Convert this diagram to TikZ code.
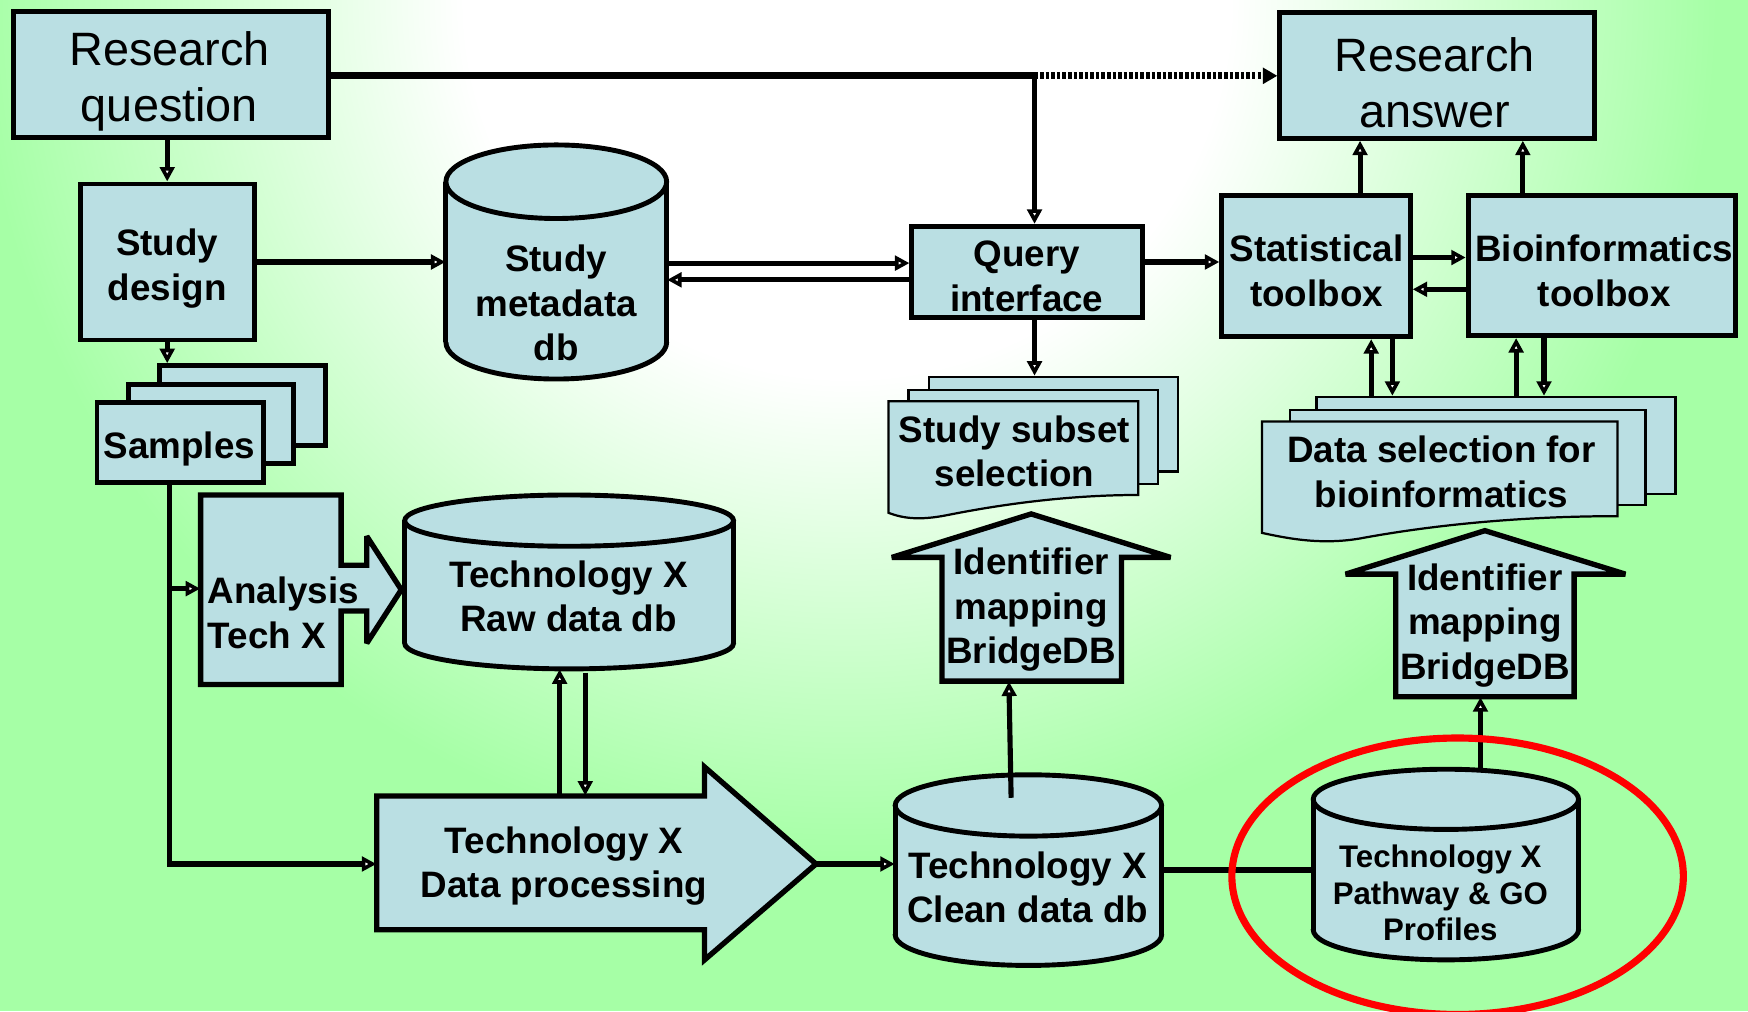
\documentclass[tikz,border=0pt]{standalone}
\usepackage{fontspec}
\setmainfont{Liberation Sans}
\usetikzlibrary{arrows.meta,fit}
\definecolor{bggreen}{HTML}{A6FFA6}
\definecolor{boxfill}{HTML}{BADFE3}
\pgfdeclareradialshading{bgshade}{\pgfpoint{0bp}{0bp}}{color(0bp)=(white); color(11bp)=(white); color(25bp)=(bggreen); color(50bp)=(bggreen)}
\newcommand\lblfont{\fontsize{16.5}{20}\selectfont\bfseries}
\newcommand\rqfont{\fontsize{21}{25}\selectfont}
\newcommand\pwfont{\fontsize{14}{16.5}\selectfont\bfseries}
% cylinder: cx, y of top ellipse centre, y of bottom ellipse centre, rx, ry
\newcommand\dbcyl[5]{%
  \fill[boxfill] (#1,#3) ellipse [x radius=#4, y radius=#5];
  \fill[boxfill] (#1-#4,#2) rectangle (#1+#4,#3);
  \begin{scope}
    \clip (#1-#4-10,#3) rectangle (#1+#4+10,#3+#5+10);
    \draw[line width=2.2pt] (#1,#3) ellipse [x radius=#4, y radius=#5];
  \end{scope}
  \draw[line width=2.2pt] (#1-#4,#2) -- (#1-#4,#3) (#1+#4,#2) -- (#1+#4,#3);
  \filldraw[fill=boxfill, line width=2.2pt] (#1,#2) ellipse [x radius=#4, y radius=#5];
}
\begin{document}
\begin{tikzpicture}[x=0.5pt,y=-0.5pt,
  box/.style={draw, fill=boxfill, line width=2.2pt, inner sep=0pt},
  shp/.style={draw, fill=boxfill, line width=2.4pt, line join=miter, miter limit=2.5},
  docpage/.style={draw, fill=boxfill, line width=1pt, inner sep=0pt},
  ghost/.style={draw=none, inner sep=0pt},
  lbl/.style={align=center, inner sep=0pt, font=\lblfont},
  conn/.style={line width=2.3pt},
  arr/.style={conn, -{Triangle[length=6.5pt,width=6.5pt,fill=white,line width=1.7pt]}},
]
\useasboundingbox (0,0) rectangle (1568,907);
% background
\fill[bggreen] (0,0) rectangle (1568,907);
\begin{scope}
  \clip (0,0) rectangle (1568,907);
  \shade[shading=bgshade] (-20,-770) rectangle (1540,770);
\end{scope}

% top boxes
\node[box, fit={(12,10) (295,123)}] (rq) {};
\node[lbl, font=\rqfont] (rqt) at (152,73) {Research\\question};
\node[box, fit={(1148,11) (1430,124)}] (ra) {};
\node[lbl, font=\rqfont] (rat) at (1287,74) {Research\\answer};
\node[box, fit={(72,165) (228,305)}] (sd) {};
\node[lbl] (sdt) at (150,241) {Study\\design};
\node[box, fit={(818,203) (1025,285)}] (qi) {};
\node[lbl] (qit) at (921,248) {Query\\interface};
\node[box, fit={(1096,175) (1265,302)}] (st) {};
\node[lbl] (stt) at (1181,243) {Statistical\\toolbox};
\node[box, fit={(1317,175) (1557,301)}] (bt) {};
\node[lbl] (btt) at (1439,243) {Bioinformatics\\toolbox};

% samples stack
\node[box, fit={(143,328) (292,400)}] (s3) {};
\node[box, fit={(115,345) (263,416)}] (s2) {};
\node[box, fit={(87,361) (236,433)}] (samples) {};
\node[lbl] (samplest) at (161,403) {Samples};

% cylinders
\dbcyl{499}{163}{307}{99}{33}
\node[ghost, fit={(400,130) (598,340)}] (smd) {};
\node[lbl] (smdt) at (499,272) {Study\\metadata\\db};

\dbcyl{510.5}{467}{577}{147.5}{23}
\node[ghost, fit={(363,444) (658,600)}] (rd) {};
\node[lbl] (rdt) at (510,535) {Technology X\\Raw data db};

\dbcyl{922.5}{722.5}{838.5}{119.5}{27.5}
\node[ghost, fit={(803,695) (1042,866)}] (cd) {};
\node[lbl] (cdt) at (922,796) {Technology X\\Clean data db};

\dbcyl{1297}{717}{834}{119}{27}
\node[ghost, fit={(1178,690) (1416,861)}] (pw) {};
\node[lbl, font=\pwfont] (pwt) at (1292,801) {Technology X\\Pathway \& GO\\Profiles};

% study subset selection (multi-document)
\node[docpage, fit={(833,338) (1057,423)}] (ss3) {};
\node[docpage, fit={(815,350) (1039,434)}] (ss2) {};
\filldraw[fill=boxfill, line width=1pt] (797,360) -- (1021,360) -- (1021,444)
  .. controls (960,444) and (900,452) .. (850,462)
  .. controls (825,467) and (810,465) .. (797,460) -- cycle;
\node[ghost, fit={(797,360) (1021,444)}] (ss) {};
\node[lbl] (sst) at (910,405) {Study subset\\selection};

% data selection (multi-document)
\node[docpage, fit={(1181,356) (1503,443)}] (ds3) {};
\node[docpage, fit={(1157,368) (1476,453)}] (ds2) {};
\filldraw[fill=boxfill, line width=1pt] (1132,378) -- (1451,378) -- (1451,463)
  .. controls (1370,463) and (1290,470) .. (1220,483)
  .. controls (1185,489) and (1155,483) .. (1132,478) -- cycle;
\node[ghost, fit={(1132,378) (1451,463)}] (ds) {};
\node[lbl] (dst) at (1293,423.5) {Data selection for\\bioinformatics};

% identifier mapping arrows
\filldraw[shp] (845,611) -- (845,500) -- (800,500) -- (925,461) -- (1050,500) -- (1006,500) -- (1006,611) -- cycle;
\node[ghost, fit={(845,500) (1006,611)}] (im1) {};
\node[lbl] (im1t) at (925,547) {Identifier\\mapping\\BridgeDB};

\filldraw[shp] (1252,625) -- (1252,515) -- (1207,515) -- (1332,476) -- (1458,515) -- (1412,515) -- (1412,625) -- cycle;
\node[ghost, fit={(1252,515) (1412,625)}] (im2) {};
\node[lbl] (im2t) at (1332,561) {Identifier\\mapping\\BridgeDB};

% analysis tech X
\filldraw[shp] (180,444) -- (306,444) -- (306,507) -- (329,507) -- (329,481) -- (360,529)
  -- (329,577) -- (329,548) -- (306,548) -- (306,614) -- (180,614) -- cycle;
\node[ghost, fit={(180,444) (306,614)}] (an) {};
\node[lbl, align=left, anchor=west] (ant) at (186,549.5) {Analysis\\Tech X};

% data processing
\filldraw[shp] (338,714) -- (632,714) -- (632,688) -- (732,775) -- (632,861) -- (632,834) -- (338,834) -- cycle;
\node[ghost, fit={(338,714) (632,834)}] (dp) {};
\coordinate (dptip) at (732,775);
\node[lbl] (dpt) at (506,777) {Technology X\\Data processing};

% connectors
\coordinate (j) at (928,68);
\draw[conn, line width=3pt] (rq.east |- j) -- (j);
\draw[arr] (j) -- (j |- qi.north);
\draw[line width=3.2pt, dash pattern=on 1.6pt off 0.9pt, -{Triangle[length=6.5pt,width=7pt]}] (j) -- (j -| ra.west);

\draw[arr] (rq.south -| sd.north) -- (sd.north);
\draw[arr] (sd.east) -- (sd.east -| smd.west);
\draw[arr] ([yshift=4pt]qi.west -| smd.east) -- ([yshift=4pt]qi.west);
\draw[arr] ([yshift=-3.5pt]qi.west) -- ([yshift=-3.5pt]qi.west -| smd.east);
\draw[arr] ([yshift=4.5pt]qi.east) -- ([yshift=4.5pt]qi.east -| st.west);
\draw[arr] ([yshift=3.75pt]st.east) -- ([yshift=3.75pt]st.east -| bt.west);
\draw[arr] ([yshift=-10.75pt]bt.west) -- ([yshift=-10.75pt]bt.west -| st.east);
\draw[arr] ([xshift=19.75pt]st.north) -- ([xshift=19.75pt]st.north |- ra.south);
\draw[arr] ([xshift=-35.5pt]bt.north) -- ([xshift=-35.5pt]bt.north |- ra.south);
\draw[arr] ([xshift=3.25pt]qi.south) -- ([xshift=3.25pt]qi.south |- ss3.north);
\draw[arr] ([xshift=24.75pt]st.south |- ds3.north) -- ([xshift=24.75pt]st.south);
\draw[arr] ([xshift=34.25pt]st.south) -- ([xshift=34.25pt]st.south |- ds3.north);
\draw[arr] ([xshift=-38.5pt]bt.south |- ds3.north) -- ([xshift=-38.5pt]bt.south);
\draw[arr] ([xshift=-26pt]bt.south) -- ([xshift=-26pt]bt.south |- ds3.north);

\draw[arr] (sd.south) -- (sd.south |- s3.north);
\coordinate (sb) at (152,775);
\coordinate (sa) at (152,528);
\draw[arr] (sb |- samples.south) -- (sb) -- (sb -| dp.west);
\draw[arr] (sa) -- (sa -| an.west);
\draw[arr] (dptip) -- (dptip -| cd.west);
\draw[arr] ([xshift=8.5pt]dp.north) -- ([xshift=8.5pt]dp.north |- rd.south);
\draw[arr] ([xshift=20pt,yshift=-1.5pt]dp.north |- rd.south) -- ([xshift=20pt]dp.north);
\draw[arr] ([xshift=-7.75pt,yshift=-10.5pt]cd.north) -- ([xshift=-10.25pt]im1.south);
\draw[arr] ([xshift=15.5pt,yshift=-1pt]pw.north) -- ([xshift=15.5pt]pw.north |- im2.south);
\draw[conn, line width=3pt] (cd.east) -- (cd.east -| pw.west);

% highlight
\draw[red, line width=3.2pt] (1307.5,786) ellipse [x radius=202.5, y radius=124];
\end{tikzpicture}
\end{document}
